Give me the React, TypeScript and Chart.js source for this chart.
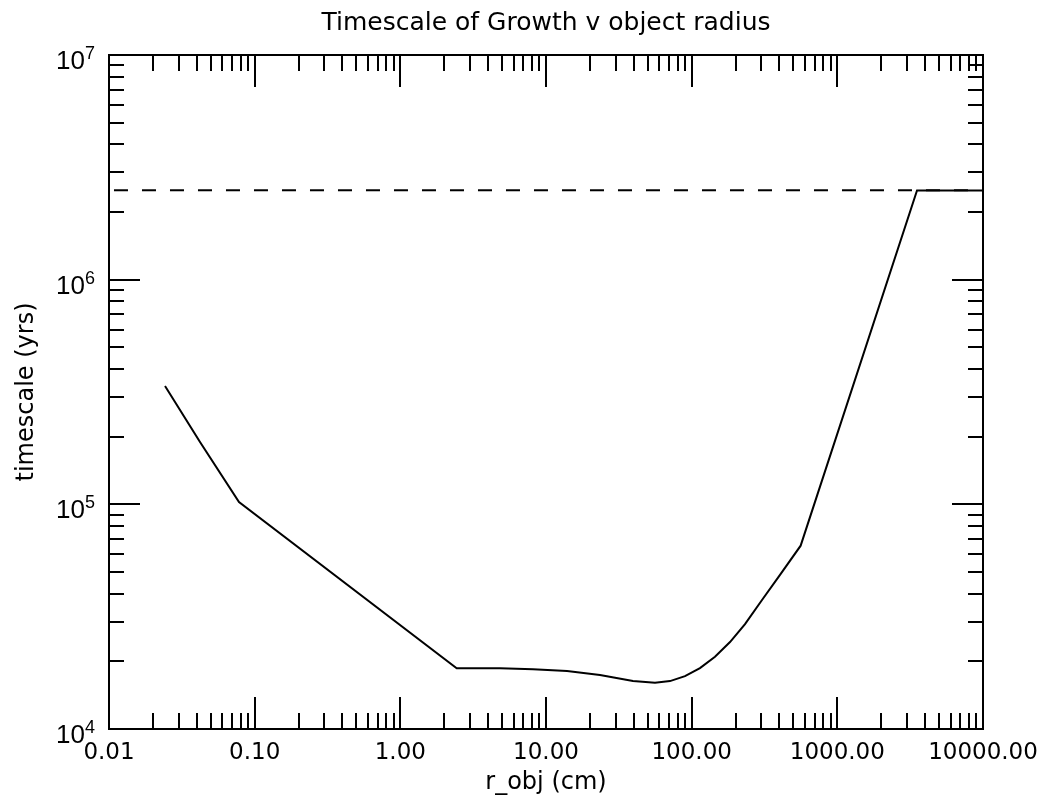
import React, { useEffect, useRef } from "react";
import { Chart, registerables } from "chart.js";

Chart.register(...registerables);

// ---- data ----
const rObj = [0.02424, 0.04214, 0.07806, 2.437, 4.83, 8.14, 13.94, 23.48, 39.55, 56.0, 71.0, 90.0, 114.0, 144.6, 183.3, 232.4, 304, 404, 560, 3524, 10000];
const tGrowth = [3.363e5, 1.894e5, 1.024e5, 1.863e4, 1.863e4, 1.844e4, 1.812e4, 1.74e4, 1.636e4, 1.607e4, 1.634e4, 1.718e4, 1.867e4, 2.098e4, 2.437e4, 2.928e4, 3.752e4, 4.85e4, 6.546e4, 2.494e6, 2.494e6];

const limitX = [0.01082, 10000];
const limitY = [2.5e6, 2.5e6];

const xTickValues = [0.01, 0.1, 1, 10, 100, 1000, 10000];
const xTickLabels = ["0.01", "0.10", "1.00", "10.00", "100.00", "1000.00", "10000.00"];
const yTickValues = [1e4, 1e5, 1e6, 1e7];
const yTickBase = ["10", "10", "10", "10"];
const yTickExp = ["4", "5", "6", "7"];

const titleText = "Timescale of Growth v object radius";
const xTitle = "r_obj (cm)";
const yTitle = "timescale (yrs)";

const WIDE = "'DejaVu Sans', sans-serif";
const HELV = "'Liberation Sans', 'DejaVu Sans', sans-serif";

const frameTicks = {
  id: "frameTicks",
  afterDatasetsDraw(chart: any) {
    const { ctx, chartArea } = chart;
    const { left, right, top, bottom } = chartArea;
    const xs = chart.scales.x;
    const ys = chart.scales.y;
    ctx.save();
    ctx.strokeStyle = "#000";
    ctx.lineWidth = 2;
    ctx.beginPath();
    ctx.rect(left, top, right - left, bottom - top);
    const e0x = Math.floor(Math.log10(xs.min) + 1e-9);
    const e1x = Math.ceil(Math.log10(xs.max) - 1e-9);
    for (let e = e0x; e <= e1x; e++) {
      for (let m = 1; m <= 9; m++) {
        const v = m * Math.pow(10, e);
        if (v < xs.min * 0.999 || v > xs.max * 1.001) continue;
        const px = Math.round(xs.getPixelForValue(v));
        const len = m === 1 ? 32 : 16;
        ctx.moveTo(px, bottom);
        ctx.lineTo(px, bottom - len);
        ctx.moveTo(px, top);
        ctx.lineTo(px, top + len);
      }
    }
    const e0y = Math.floor(Math.log10(ys.min) + 1e-9);
    const e1y = Math.ceil(Math.log10(ys.max) - 1e-9);
    for (let e = e0y; e <= e1y; e++) {
      for (let m = 1; m <= 9; m++) {
        const v = m * Math.pow(10, e);
        if (v < ys.min * 0.999 || v > ys.max * 1.001) continue;
        const py = Math.round(ys.getPixelForValue(v));
        const len = m === 1 ? 31 : 15;
        ctx.moveTo(left, py);
        ctx.lineTo(left + len, py);
        ctx.moveTo(right, py);
        ctx.lineTo(right - len, py);
      }
    }
    ctx.stroke();

    // y tick labels: 10 with superscript exponent
    ctx.fillStyle = "#000";
    ctx.textBaseline = "alphabetic";
    ctx.textAlign = "right";
    const rightEdge = left - 14;
    yTickValues.forEach((v, i) => {
      const py = ys.getPixelForValue(v);
      ctx.font = `18px ${HELV}`;
      const w = ctx.measureText(yTickExp[i]).width;
      ctx.fillText(yTickExp[i], rightEdge, py + 4);
      ctx.font = `26px ${HELV}`;
      ctx.fillText(yTickBase[i], rightEdge - w, py + 14);
    });
    ctx.restore();
  },
};

export default function App() {
  const ref = useRef<HTMLCanvasElement | null>(null);

  useEffect(() => {
    if (!ref.current) return;
    const chart = new Chart(ref.current, {
      type: "line",
      data: {
        datasets: [
          {
            label: "limit",
            data: limitX.map((x, i) => ({ x, y: limitY[i] })),
            borderColor: "#000",
            borderWidth: 2,
            borderDash: [14, 14],
            pointRadius: 0,
            fill: false,
          },
          {
            label: "timescale",
            data: rObj.map((x, i) => ({ x, y: tGrowth[i] })),
            borderColor: "#000",
            borderWidth: 2,
            pointRadius: 0,
            tension: 0,
            fill: false,
          },
        ],
      },
      options: {
        animation: false,
        responsive: false,
        devicePixelRatio: 1,
        layout: { padding: { left: 0, right: 63, top: 0, bottom: 0 } },
        plugins: {
          legend: { display: false },
          tooltip: { enabled: false },
          title: { display: false },
        },
        scales: {
          x: {
            type: "logarithmic",
            position: "bottom",
            min: 0.01,
            max: 10000,
            grid: { display: false, drawTicks: false },
            border: { display: false },
            afterBuildTicks: (s: any) => {
              s.ticks = xTickValues.map((v) => ({ value: v }));
            },
            afterFit: (s: any) => {
              s.height = 68;
              s.paddingLeft = 0;
              s.paddingRight = 0;
            },
            ticks: {
              autoSkip: false,
              maxRotation: 0,
              padding: 10,
              color: "#000",
              font: { family: WIDE, size: 23 },
              callback: (v: any) => {
                const i = xTickValues.findIndex((t) => Math.abs(t - v) / t < 1e-6);
                return i >= 0 ? xTickLabels[i] : "";
              },
            },
            title: {
              display: true,
              text: xTitle,
              color: "#000",
              font: { family: WIDE, size: 24 },
              padding: { top: 0, bottom: 0 },
            },
          },
          x2: {
            type: "logarithmic",
            position: "top",
            min: 0.01,
            max: 10000,
            grid: { display: false, drawTicks: false },
            border: { display: false },
            ticks: { display: false },
            afterFit: (s: any) => {
              s.height = 55;
              s.paddingLeft = 0;
              s.paddingRight = 0;
            },
            title: {
              display: true,
              text: titleText,
              color: "#000",
              font: { family: WIDE, size: 25 },
              padding: { top: 8, bottom: 0 },
            },
          },
          y: {
            type: "logarithmic",
            position: "left",
            min: 1e4,
            max: 1e7,
            grid: { display: false, drawTicks: false },
            border: { display: false },
            afterBuildTicks: (s: any) => {
              s.ticks = yTickValues.map((v) => ({ value: v }));
            },
            afterFit: (s: any) => {
              s.width = 109;
            },
            ticks: { display: false },
            title: {
              display: true,
              text: yTitle,
              color: "#000",
              font: { family: WIDE, size: 24 },
              padding: { top: 12, bottom: 0 },
            },
          },
        },
      },
      plugins: [frameTicks],
    } as any);
    return () => chart.destroy();
  }, []);

  return (
    <div style={{ position: "absolute", left: 0, top: 0, width: 1046, height: 797, background: "#fff" }}>
      <canvas ref={ref} width={1046} height={797} style={{ display: "block" }} />
    </div>
  );
}
